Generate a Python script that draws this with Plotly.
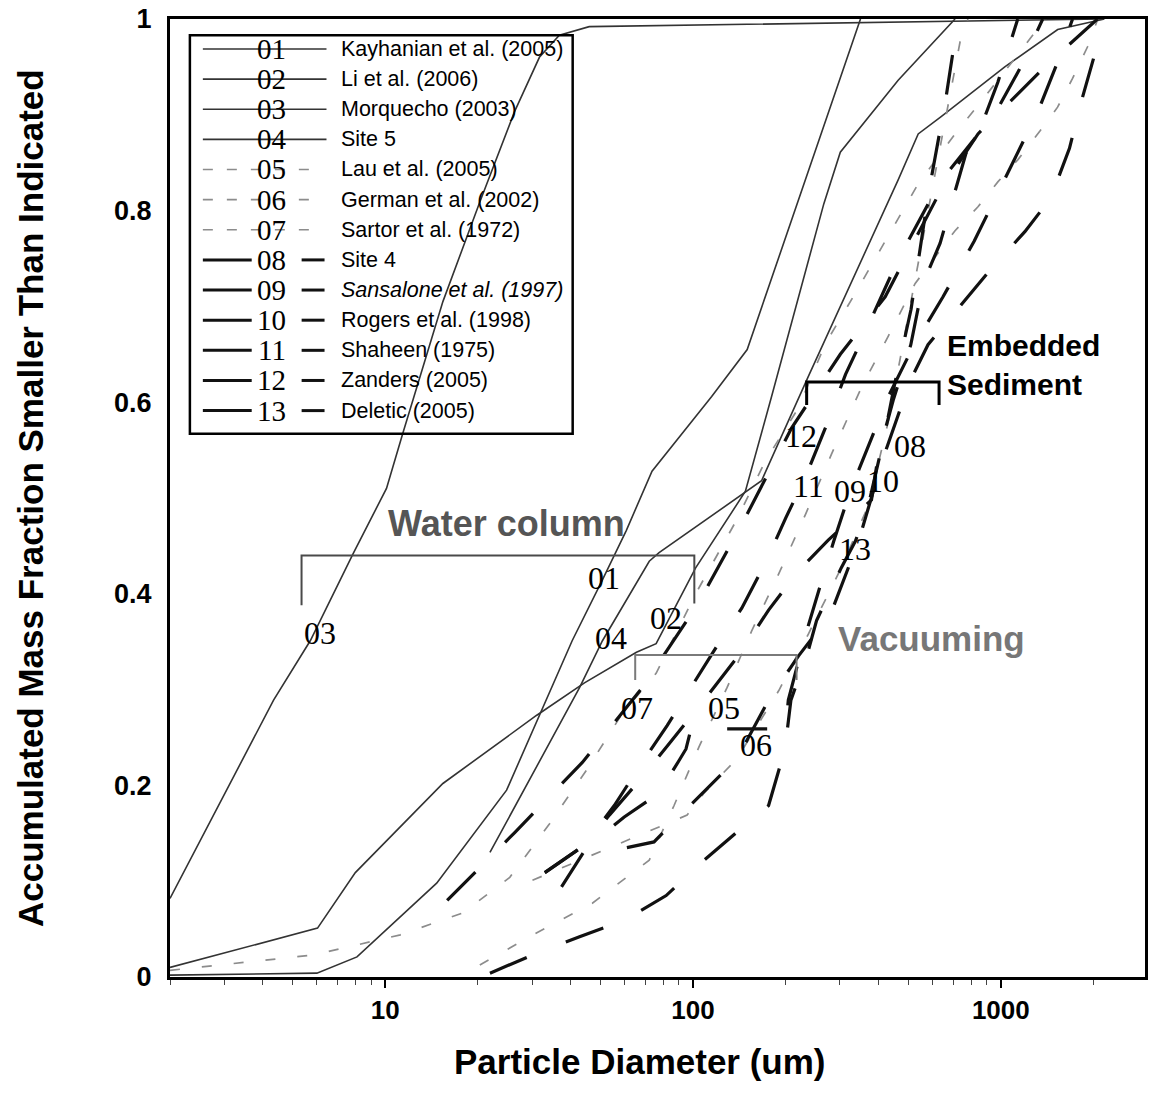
import numpy as np
import plotly.graph_objects as go

# ---------------- particle size distributions (diameter in um, cumulative fraction) ----------------
d01 = [2, 6.0, 8.1, 14.7, 24.8, 31.8, 40.5, 50.7, 60.7, 73.6, 115, 150, 234, 350]
f01 = [0.002, 0.004, 0.021, 0.098, 0.195, 0.275, 0.351, 0.414, 0.466, 0.528, 0.606, 0.655, 0.835, 1.0]

d02 = [2, 6.03, 8.0, 15.4, 31.0, 44.4, 65.5, 75.9, 102, 148, 180, 266, 301, 464, 710]
f02 = [0.010, 0.051, 0.109, 0.202, 0.273, 0.307, 0.339, 0.348, 0.427, 0.507, 0.606, 0.807, 0.861, 0.936, 1.0]

d03 = [2, 4.34, 5.71, 7.87, 10.1, 11.4, 15.4, 20.3, 26.3, 31.7, 36.8, 46, 2140]
f03 = [0.082, 0.289, 0.351, 0.442, 0.51, 0.567, 0.705, 0.809, 0.903, 0.96, 0.983, 0.992, 1.0]

d04 = [21.9, 42.8, 50.8, 72.1, 77.6, 141, 167, 237, 464, 539, 640, 1030, 1530, 2170]
f04 = [0.13, 0.302, 0.351, 0.434, 0.443, 0.502, 0.518, 0.627, 0.832, 0.880, 0.898, 0.950, 0.989, 1.0]

d05 = [20.3, 31.0, 47.1, 72.1, 86.8, 94.9, 104.5, 129, 155, 190, 232, 282, 352, 431, 527, 710, 843,
       978, 1135, 1340, 1529, 1710, 1913, 2060]
f05 = [0.0125, 0.046, 0.077, 0.122, 0.179, 0.208, 0.240, 0.302, 0.361, 0.421, 0.483, 0.546, 0.615,
       0.669, 0.724, 0.779, 0.804, 0.830, 0.853, 0.883, 0.908, 0.938, 0.971, 0.999]

d06 = [30.1, 48.5, 73.6, 95.7, 108.6, 139, 190, 237, 303, 371, 431, 482, 539, 603, 674, 737, 782]
f06 = [0.101, 0.129, 0.153, 0.169, 0.192, 0.228, 0.299, 0.358, 0.427, 0.492, 0.580, 0.663, 0.747,
       0.830, 0.913, 0.976, 1.0]

d07 = [2, 5.85, 11.2, 17.9, 25.4, 34.2, 45.1, 58.9, 75.9, 102, 138, 172, 220, 269, 337, 430, 539,
       710, 978, 1387]
f07 = [0.007, 0.023, 0.044, 0.067, 0.104, 0.16, 0.216, 0.275, 0.317, 0.4, 0.476, 0.539, 0.594, 0.661,
       0.714, 0.773, 0.828, 0.88, 0.936, 0.999]

d08 = [61, 74.7, 82.4, 108.6, 139, 176, 220, 280, 345, 415, 441, 507, 580, 743, 929, 1197, 1452,
       1671, 1815, 2014, 2138]
f08 = [0.135, 0.141, 0.155, 0.193, 0.228, 0.289, 0.335, 0.379, 0.455, 0.542, 0.567, 0.622, 0.660,
       0.702, 0.739, 0.778, 0.813, 0.865, 0.911, 0.962, 1.0]

d09 = [37.4, 45.1, 59.8, 77.6, 90.1, 94.9, 98.5, 200, 204, 229, 256, 286, 324, 371, 431, 519, 649,
       819, 1020, 1318, 1529, 1710]
f09 = [0.094, 0.135, 0.167, 0.192, 0.226, 0.238, 0.259, 0.259, 0.289, 0.351, 0.403, 0.454, 0.507,
       0.554, 0.606, 0.658, 0.710, 0.768, 0.830, 0.903, 0.955, 1.0]

d10 = [33.0, 44.4, 53.5, 66.9, 84.9, 108.6, 141, 176, 220, 275, 380, 400, 447, 510, 559, 635, 771,
       875, 978, 1135]
f10 = [0.109, 0.1375, 0.169, 0.205, 0.246, 0.289, 0.336, 0.383, 0.424, 0.456, 0.498, 0.545, 0.602,
       0.660, 0.724, 0.766, 0.860, 0.893, 0.934, 1.0]

d11 = [33.0, 44.4, 55.5, 66.8, 82.4, 99.3, 121, 144, 173, 200, 234, 269, 313, 352, 464, 635, 964,
       1161, 1368]
f11 = [0.109, 0.1375, 0.179, 0.219, 0.2625, 0.304, 0.348, 0.385, 0.434, 0.479, 0.525, 0.573, 0.629,
       0.664, 0.749, 0.830, 0.903, 0.950, 1.0]

d12 = [15.9, 26.4, 43.7, 68.4, 104, 146, 209, 301, 421, 640, 843, 1419, 2060]
f12 = [0.08, 0.151, 0.224, 0.302, 0.39, 0.476, 0.573, 0.65, 0.71, 0.822, 0.88, 0.953, 1.0]

d13 = [21.9, 30.1, 42.8, 59.8, 81.8, 106, 141, 176, 199, 208, 237, 252, 303, 337, 371, 420, 452,
       511, 580, 663, 726]
f13 = [0.004, 0.023, 0.042, 0.059, 0.085, 0.119, 0.153, 0.179, 0.238, 0.289, 0.341, 0.372, 0.427,
       0.455, 0.492, 0.567, 0.619, 0.697, 0.815, 0.917, 1.0]

codes = ["01", "02", "03", "04", "05", "06", "07", "08", "09", "10", "11", "12", "13"]
sources = ["Kayhanian et al. (2005)", "Li et al. (2006)", "Morquecho (2003)", "Site 5",
           "Lau et al. (2005)", "German et al. (2002)", "Sartor et al. (1972)", "Site 4",
           "<i>Sansalone et al. (1997)</i>", "Rogers et al. (1998)", "Shaheen (1975)",
           "Zanders (2005)", "Deletic (2005)"]
diam = [d01, d02, d03, d04, d05, d06, d07, d08, d09, d10, d11, d12, d13]
frac = [f01, f02, f03, f04, f05, f06, f07, f08, f09, f10, f11, f12, f13]

# inline curve labels (diameter, fraction)
label_d = [51.5, 81.8, 6.16, 54.3, 126, 160, 65.9, 507, 324, 415, 237, 225, 337]
label_f = [0.416, 0.375, 0.359, 0.354, 0.281, 0.242, 0.281, 0.554, 0.507, 0.518, 0.5125, 0.565, 0.447]

# ---------------- styles ----------------
SOLID = dict(color="#333333", width=1.6)
GRAY = dict(color="#8c8c8c", width=1.7, dash="10px,22px")
THICK = dict(color="#111111", width=3.2, dash="40px,42px")
style = [SOLID] * 4 + [GRAY] * 3 + [THICK] * 6

X_MIN, X_MAX = 2.0, 2940.0
LX0, LX1 = np.log10(X_MIN), np.log10(X_MAX)


def xp(d):
    """Diameter -> paper fraction along the log x axis."""
    return (np.log10(d) - LX0) / (LX1 - LX0)


fig = go.Figure()
for d, f, st, c in zip(diam, frac, style, codes):
    fig.add_trace(go.Scatter(x=d, y=f, mode="lines", line=st, name=c,
                             showlegend=False, hoverinfo="skip"))

SERIF = "Liberation Serif"
SANS = "Liberation Sans"
annotations = []
shapes = []


def note(x, y, text, font, xanchor="center", yanchor="middle", **kw):
    annotations.append(dict(x=x, y=y, text=text, showarrow=False, font=font,
                            xanchor=xanchor, yanchor=yanchor, **kw))


# inline series numbers
for c, d, f in zip(codes, label_d, label_f):
    note(np.log10(d), f, c, dict(family=SERIF, size=32, color="black"), xref="x", yref="y")


# ---------------- brackets ----------------
def bracket(d0, d1, top, drop0, drop1, color, width):
    x0, x1 = xp(d0), xp(d1)
    pts = [(x0, drop0), (x0, top), (x1, top), (x1, drop1)]
    path = "M " + " L ".join(f"{a},{b}" for a, b in pts)
    shapes.append(dict(type="path", path=path, xref="paper", yref="paper",
                       line=dict(color=color, width=width)))


bracket(5.35, 101, 0.44, 0.388, 0.39, "#4a4a4a", 2)
bracket(64.9, 217, 0.336, 0.310, 0.310, "#7a7a7a", 2)
bracket(234, 630, 0.621, 0.597, 0.597, "#000000", 3)

note(xp(24.7), 0.473, "<b>Water column</b>", dict(family=SANS, size=36, color="#555555"),
     xref="paper", yref="paper")
note(xp(292), 0.353, "<b>Vacuuming</b>", dict(family=SANS, size=35, color="#777777"),
     xanchor="left", xref="paper", yref="paper")
note(xp(660), 0.6385, "<b>Embedded<br>Sediment</b>", dict(family=SANS, size=30, color="black"),
     xanchor="left", align="left", xref="paper", yref="paper")

# ---------------- hand-built legend ----------------
L_X0, L_X1, L_Y0, L_Y1 = 0.0204, 0.413, 0.567, 0.983
shapes.append(dict(type="rect", xref="paper", yref="paper", x0=L_X0, x1=L_X1, y0=L_Y0, y1=L_Y1,
                   line=dict(color="black", width=2.5), fillcolor="rgba(0,0,0,0)"))
for i, (c, s) in enumerate(zip(codes, sources)):
    yr = 0.96875 - i * 0.03146
    if i < 4:
        shapes.append(dict(type="line", xref="paper", yref="paper", x0=0.0337, x1=0.1605, y0=yr, y1=yr,
                           line=dict(color="#333333", width=1.6)))
    elif i < 7:
        shapes.append(dict(type="line", xref="paper", yref="paper", x0=0.0337, x1=0.152, y0=yr, y1=yr,
                           line=dict(color="#8c8c8c", width=1.7, dash="10px,14px")))
    else:
        shapes.append(dict(type="line", xref="paper", yref="paper", x0=0.0337, x1=0.0838, y0=yr, y1=yr,
                           line=dict(color="#111111", width=3)))
        shapes.append(dict(type="line", xref="paper", yref="paper", x0=0.135, x1=0.1585, y0=yr, y1=yr,
                           line=dict(color="#111111", width=3)))
    note(0.1043, yr, c, dict(family=SERIF, size=29, color="black"), xref="paper", yref="paper")
    note(0.1738, yr, s, dict(family=SANS, size=21.5, color="black"), xanchor="left",
         xref="paper", yref="paper")

# axis titles
note(0.4816, -0.0885, "<b>Particle Diameter (um)</b>", dict(family=SANS, size=35, color="black"),
     xref="paper", yref="paper")
note(-0.143, 0.4995, "<b>Accumulated Mass Fraction Smaller Than Indicated</b>",
     dict(family=SANS, size=35, color="black"), textangle=-90, xref="paper", yref="paper")

minor_vals = [m * 10 ** e for e in range(0, 4) for m in range(2, 10) if X_MIN <= m * 10 ** e <= X_MAX]

fig.update_xaxes(type="log", range=[LX0, LX1], showgrid=False, zeroline=False,
                 showline=True, linecolor="black", linewidth=3, mirror=True,
                 tickvals=[10, 100, 1000], ticktext=["10", "100", "1000"],
                 ticks="outside", ticklen=8, tickwidth=1.5, tickcolor="black",
                 tickfont=dict(family=SANS, size=26, color="black", weight="bold"),
                 minor=dict(tickvals=minor_vals, ticks="outside", ticklen=5, tickwidth=1,
                            tickcolor="#444444", showgrid=False))
fig.update_yaxes(range=[0, 1], showgrid=False, zeroline=False,
                 showline=True, linecolor="black", linewidth=3, mirror=True,
                 tickvals=[0, 0.2, 0.4, 0.6, 0.8, 1.0], ticktext=["0", "0.2", "0.4", "0.6", "0.8", "1"],
                 ticks="", ticklabelstandoff=10,
                 tickfont=dict(family=SANS, size=27, color="black", weight="bold"))

fig.update_layout(width=1152, height=1098, margin=dict(l=170, r=4, t=17, b=121),
                  paper_bgcolor="white", plot_bgcolor="white",
                  shapes=shapes, annotations=annotations, showlegend=False)

fig.write_html("out.html")
